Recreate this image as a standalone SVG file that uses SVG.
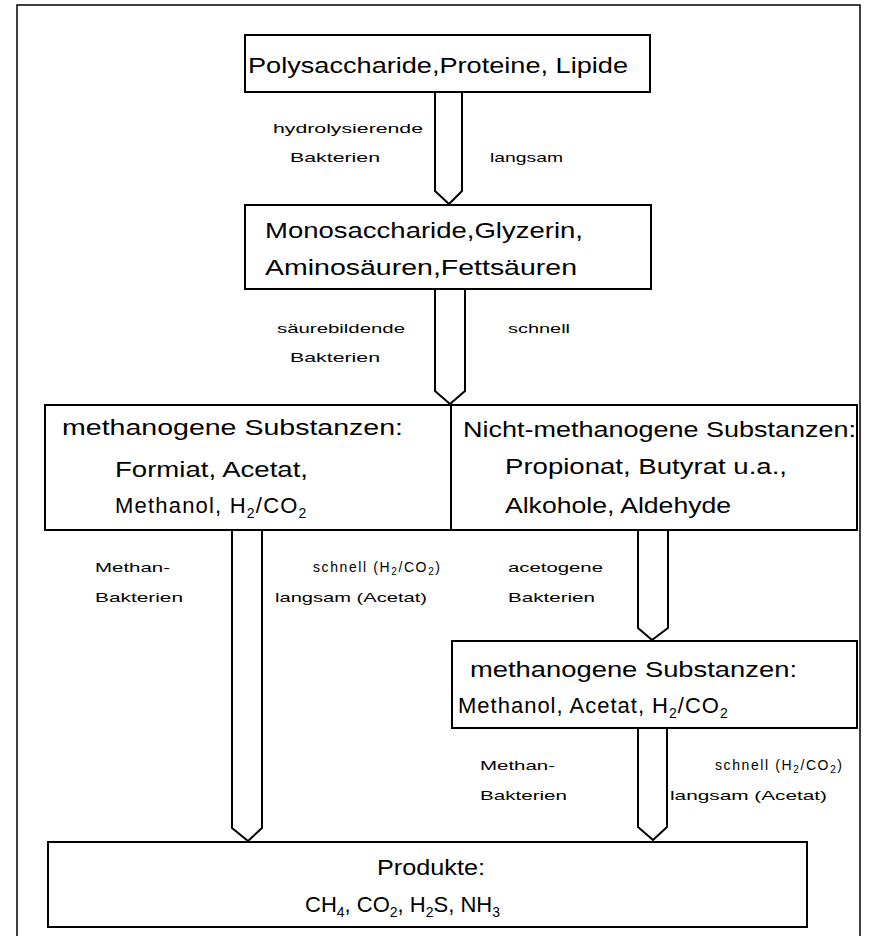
<svg xmlns="http://www.w3.org/2000/svg" width="877" height="936" viewBox="0 0 877 936">
<style>
.box{fill:#fff;stroke:#000;stroke-width:2}
.frame{fill:none;stroke:#000;stroke-width:1.5}
.arr{fill:none;stroke:#000;stroke-width:2;stroke-linejoin:round}
.t{font-family:"Liberation Sans",Arial,sans-serif;font-size:22px;fill:#000}
.s{font-family:"Liberation Sans",Arial,sans-serif;font-size:13px;fill:#000}
.s2{font-family:"Liberation Sans",Arial,sans-serif;font-size:14px;fill:#000;letter-spacing:1.6px}
</style>
<rect width="877" height="936" fill="#fff"/>
<path class="frame" d="M17 936 V5 H860 V936"/>
<g id="connectors">
<path class="arr" d="M435 92 V191 L449 204 L462 191 V92"/>
<path class="arr" d="M435 289 V391 L450 404 L465 391 V289"/>
<path class="arr" d="M232 530 V828 L248 841 L262 828 V530"/>
<path class="arr" d="M638 530 V628 L652 640 L668 628 V530"/>
<path class="arr" d="M638 728 V827 L653 840 L667 827 V728"/>
</g>
<g id="n1">
<rect class="box" x="245" y="35" width="405" height="57"/>
<text class="t" x="248" y="73" textLength="380" lengthAdjust="spacingAndGlyphs">Polysaccharide,Proteine, Lipide</text>
</g>
<g id="l1">
<text class="s" x="273" y="133" textLength="150" lengthAdjust="spacingAndGlyphs">hydrolysierende</text>
<text class="s" x="290" y="162" textLength="90" lengthAdjust="spacingAndGlyphs">Bakterien</text>
<text class="s" x="490" y="162" textLength="73" lengthAdjust="spacingAndGlyphs">langsam</text>
</g>
<g id="n2">
<rect class="box" x="245" y="205" width="406" height="84"/>
<text class="t" x="265" y="238" textLength="318" lengthAdjust="spacingAndGlyphs">Monosaccharide,Glyzerin,</text>
<text class="t" x="265" y="275" textLength="312" lengthAdjust="spacingAndGlyphs">Aminosäuren,Fettsäuren</text>
</g>
<g id="l2">
<text class="s" x="277" y="333" textLength="128" lengthAdjust="spacingAndGlyphs">säurebildende</text>
<text class="s" x="290" y="362" textLength="90" lengthAdjust="spacingAndGlyphs">Bakterien</text>
<text class="s" x="508" y="333" textLength="62" lengthAdjust="spacingAndGlyphs">schnell</text>
</g>
<g id="n3">
<rect class="box" x="45" y="405" width="812" height="125"/>
<line x1="451" y1="405" x2="451" y2="530" stroke="#000" stroke-width="2"/>
<text class="t" x="62" y="435" textLength="341" lengthAdjust="spacingAndGlyphs">methanogene Substanzen:</text>
<text class="t" x="115" y="477" textLength="193" lengthAdjust="spacingAndGlyphs">Formiat, Acetat,</text>
<text class="t" x="115" y="513" letter-spacing="1.2" font-size="23">Methanol, H<tspan font-size="14" dy="5">2</tspan><tspan dy="-5">/CO</tspan><tspan font-size="14" dy="5">2</tspan></text>
<text class="t" x="463" y="437" textLength="393" lengthAdjust="spacingAndGlyphs">Nicht-methanogene Substanzen:</text>
<text class="t" x="505" y="474" textLength="282" lengthAdjust="spacingAndGlyphs">Propionat, Butyrat u.a.,</text>
<text class="t" x="505" y="513" textLength="226" lengthAdjust="spacingAndGlyphs">Alkohole, Aldehyde</text>
</g>
<g id="l3">
<text class="s" x="95" y="572" textLength="75" lengthAdjust="spacingAndGlyphs">Methan-</text>
<text class="s" x="95" y="602" textLength="88" lengthAdjust="spacingAndGlyphs">Bakterien</text>
<text class="s2" x="313" y="572">schnell (H<tspan font-size="10" dy="3">2</tspan><tspan dy="-3">/CO</tspan><tspan font-size="10" dy="3">2</tspan><tspan dy="-3">)</tspan></text>
<text class="s" x="275" y="602" textLength="152" lengthAdjust="spacingAndGlyphs">langsam (Acetat)</text>
<text class="s" x="508" y="572" textLength="95" lengthAdjust="spacingAndGlyphs">acetogene</text>
<text class="s" x="508" y="602" textLength="87" lengthAdjust="spacingAndGlyphs">Bakterien</text>
</g>
<g id="n4">
<rect class="box" x="452" y="641" width="405" height="87"/>
<text class="t" x="470" y="677" textLength="327" lengthAdjust="spacingAndGlyphs">methanogene Substanzen:</text>
<text class="t" x="458" y="713" letter-spacing="1" font-size="23">Methanol, Acetat, H<tspan font-size="14" dy="5">2</tspan><tspan dy="-5">/CO</tspan><tspan font-size="14" dy="5">2</tspan></text>
</g>
<g id="l4">
<text class="s" x="480" y="770" textLength="75" lengthAdjust="spacingAndGlyphs">Methan-</text>
<text class="s" x="480" y="800" textLength="87" lengthAdjust="spacingAndGlyphs">Bakterien</text>
<text class="s2" x="715" y="770">schnell (H<tspan font-size="10" dy="3">2</tspan><tspan dy="-3">/CO</tspan><tspan font-size="10" dy="3">2</tspan><tspan dy="-3">)</tspan></text>
<text class="s" x="670" y="800" textLength="157" lengthAdjust="spacingAndGlyphs">langsam (Acetat)</text>
</g>
<g id="n5">
<rect class="box" x="48" y="842" width="759" height="85"/>
<text class="t" x="377" y="875" textLength="108" lengthAdjust="spacingAndGlyphs">Produkte:</text>
<text class="t" x="305" y="912">CH<tspan font-size="14" dy="5">4</tspan><tspan dy="-5">, CO</tspan><tspan font-size="14" dy="5">2</tspan><tspan dy="-5">, H</tspan><tspan font-size="14" dy="5">2</tspan><tspan dy="-5">S, NH</tspan><tspan font-size="14" dy="5">3</tspan></text>
</g>
</svg>
